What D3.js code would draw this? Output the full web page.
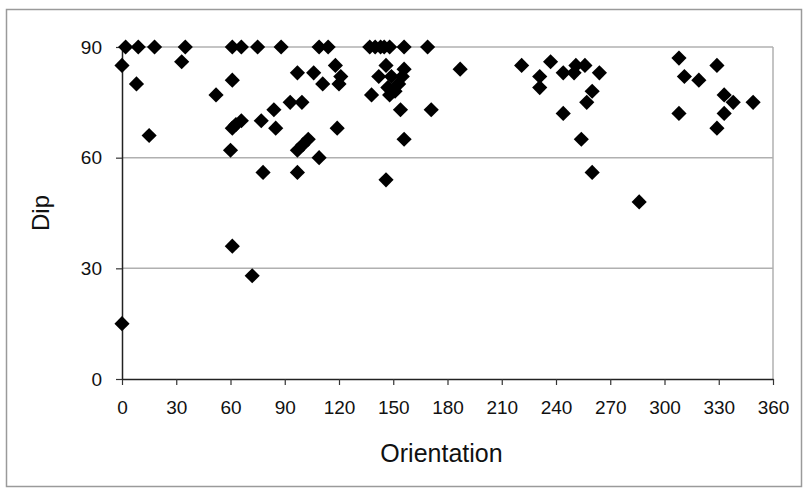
<!DOCTYPE html>
<html>
<head>
<meta charset="utf-8">
<script src="https://cdn.jsdelivr.net/npm/d3@7"></script>
<style>
  html, body { margin: 0; padding: 0; background: #fff; }
  svg text { font-family: "Liberation Sans", Arial, sans-serif; fill: #111; }
</style>
</head>
<body>
<svg id="chart" width="804" height="492"></svg>
<script>
// ---- data ----
const orientation = [
  2, 9, 18, 35, 61, 66, 75, 88, 109, 114, 137, 140, 143, 145, 148, 156, 169,
  0, 0, 8, 15, 33, 52, 61, 61, 60, 61, 63, 66, 72, 77, 78, 84, 85, 93, 97, 99.5,
  97, 100, 103, 97, 106, 109, 111, 118, 121, 120, 119, 138, 142, 146, 147, 148,
  149, 151, 153, 155, 156, 146, 154, 156, 171, 187, 221, 231, 231, 237, 244, 244,
  250, 251, 256, 264, 260, 257, 254, 260, 286, 308, 311, 319, 329, 333, 338, 349,
  308, 333, 329
];
const dip = [
  90, 90, 90, 90, 90, 90, 90, 90, 90, 90, 90, 90, 90, 90, 90, 90, 90,
  85, 15, 80, 66, 86, 77, 81, 36, 62, 68, 69, 70, 28, 70, 56, 73, 68, 75, 83, 75,
  62, 63.5, 65, 56, 83, 60, 80, 85, 82, 80, 68, 77, 82, 85, 79, 77,
  82, 78, 80, 82, 84, 54, 73, 65, 73, 84, 85, 82, 79, 86, 83, 72,
  83, 85, 85, 83, 78, 75, 65, 56, 48, 87, 82, 81, 85, 77, 75, 75,
  72, 72, 68
];
const xTicks = [0, 30, 60, 90, 120, 150, 180, 210, 240, 270, 300, 330, 360];
const yTicks = [0, 30, 60, 90];
const xTitle = "Orientation";
const yTitle = "Dip";

// ---- layout ----
const svg = d3.select("#chart");
const pLeft = 122, pRight = 773, pTop = 47, pBottom = 379;

const x = d3.scaleLinear().domain([0, 360]).range([pLeft, pRight]);
const y = d3.scaleLinear().domain([0, 90]).range([pBottom, pTop]);

// outer chart border
svg.append("rect")
  .attr("x", 6.5).attr("y", 9.5).attr("width", 795).attr("height", 477)
  .attr("fill", "none").attr("stroke", "#9a9a9a").attr("stroke-width", 1.5);

// gridlines
svg.append("g").selectAll("line")
  .data(yTicks.filter(d => d > 0))
  .join("line")
  .attr("x1", pLeft).attr("x2", pRight)
  .attr("y1", d => y(d)).attr("y2", d => y(d))
  .attr("stroke", "#b0b0b0").attr("stroke-width", 1.5);

// right plot border
svg.append("line")
  .attr("x1", pRight).attr("x2", pRight).attr("y1", pTop).attr("y2", pBottom)
  .attr("stroke", "#b0b0b0").attr("stroke-width", 1.5);

// axes
const xAxis = d3.axisBottom(x).tickValues(xTicks).tickSize(6).tickSizeOuter(0).tickPadding(16);
const yAxis = d3.axisLeft(y).tickValues(yTicks).tickSize(6).tickSizeOuter(0).tickPadding(14);

const gx = svg.append("g").attr("transform", `translate(0,${pBottom})`).call(xAxis);
const gy = svg.append("g").attr("transform", `translate(${pLeft},0)`).call(yAxis);
[gx, gy].forEach(g => {
  g.select(".domain").attr("stroke", "#222").attr("stroke-width", 1.5);
  g.selectAll(".tick line").attr("stroke", "#333").attr("stroke-width", 1.2);
  g.selectAll(".tick text").attr("font-size", 19).attr("fill", "#111")
    .attr("font-family", "'Liberation Sans', Arial, sans-serif");
});

// axis titles
svg.append("text")
  .attr("x", x(180) - 6).attr("y", 462)
  .attr("text-anchor", "middle").attr("font-size", 25)
  .text(xTitle);
svg.append("text")
  .attr("transform", `translate(49,${(pTop + pBottom) / 2}) rotate(-90)`)
  .attr("text-anchor", "middle").attr("font-size", 24)
  .text(yTitle);

// points (diamonds)
const pts = orientation.map((o, i) => ({ o, d: dip[i] }));
const diamond = d3.symbol().type(d3.symbolSquare).size(115);
svg.append("g").selectAll("path")
  .data(pts)
  .join("path")
  .attr("d", diamond)
  .attr("transform", p => `translate(${x(p.o)},${y(p.d)}) rotate(45)`)
  .attr("fill", "#000");
</script>
</body>
</html>
